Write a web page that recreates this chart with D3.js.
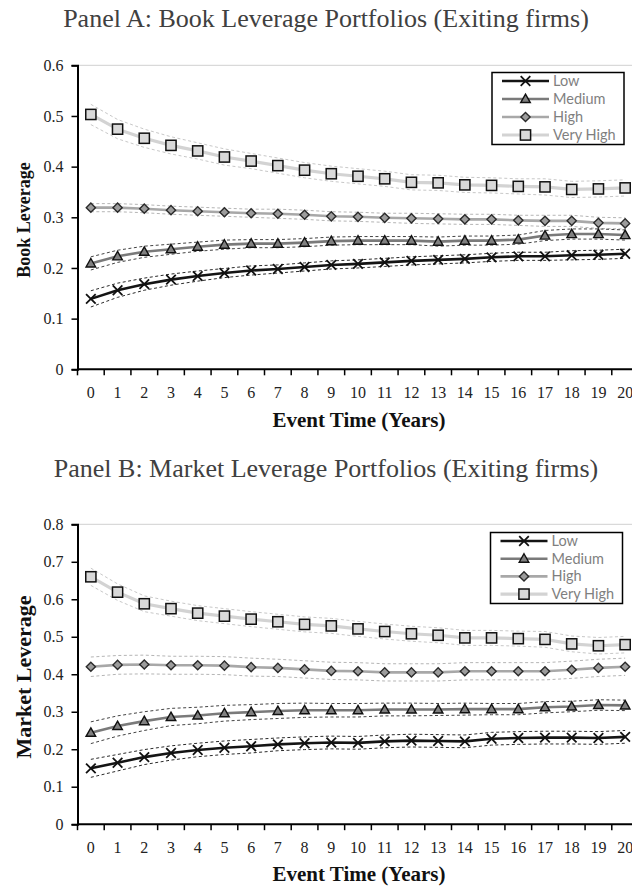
<!DOCTYPE html>
<html>
<head>
<meta charset="utf-8">
<script src="https://cdn.jsdelivr.net/npm/d3@7"></script>
<style>
  html, body { margin: 0; padding: 0; background: #fff; overflow: hidden; }
  svg { display: block; }
</style>
</head>
<body>
<svg id="chart" width="632" height="889"></svg>
<script>
// ---------------- DATA ----------------
const eventYears = d3.range(0, 21).map(String); // tick labels 0..20
const seriesNames = ["Low", "Medium", "High", "Very High"];

// Panel A: Book leverage
const bookLow      = [0.139,0.156,0.168,0.177,0.184,0.190,0.195,0.198,0.202,0.206,0.208,0.211,0.214,0.216,0.218,0.221,0.223,0.223,0.225,0.226,0.228];
const bookMedium   = [0.209,0.223,0.232,0.237,0.242,0.246,0.248,0.248,0.250,0.253,0.254,0.254,0.254,0.252,0.254,0.254,0.256,0.264,0.267,0.267,0.265];
const bookHigh     = [0.319,0.319,0.317,0.314,0.312,0.310,0.308,0.307,0.305,0.302,0.301,0.299,0.298,0.297,0.296,0.296,0.294,0.293,0.293,0.289,0.288];
const bookVeryHigh = [0.503,0.474,0.456,0.442,0.431,0.419,0.411,0.402,0.393,0.386,0.381,0.376,0.369,0.368,0.364,0.363,0.361,0.360,0.355,0.356,0.358];
// Panel A: confidence half-widths
const bookLowCI      = [0.016,0.014,0.012,0.011,0.010,0.009,0.009,0.008,0.008,0.008,0.008,0.008,0.008,0.008,0.008,0.008,0.008,0.008,0.009,0.009,0.009];
const bookMediumCI   = [0.013,0.012,0.011,0.010,0.009,0.009,0.008,0.008,0.008,0.008,0.008,0.008,0.008,0.009,0.009,0.009,0.009,0.010,0.010,0.010,0.010];
const bookHighCI     = [0.008,0.008,0.008,0.008,0.008,0.008,0.008,0.009,0.009,0.009,0.009,0.009,0.010,0.010,0.010,0.010,0.010,0.011,0.011,0.011,0.011];
const bookVeryHighCI = [0.020,0.019,0.018,0.017,0.016,0.016,0.015,0.015,0.015,0.015,0.015,0.015,0.015,0.015,0.015,0.015,0.015,0.016,0.016,0.016,0.016];

// Panel B: Market leverage
const mktLow      = [0.149,0.164,0.179,0.190,0.198,0.204,0.208,0.213,0.216,0.218,0.217,0.221,0.223,0.222,0.221,0.228,0.230,0.231,0.231,0.230,0.233];
const mktMedium   = [0.244,0.262,0.275,0.286,0.290,0.296,0.299,0.302,0.304,0.304,0.304,0.306,0.306,0.306,0.307,0.307,0.307,0.312,0.314,0.318,0.317];
const mktHigh     = [0.420,0.425,0.426,0.424,0.424,0.423,0.419,0.417,0.413,0.409,0.408,0.405,0.405,0.405,0.408,0.408,0.408,0.408,0.412,0.417,0.420];
const mktVeryHigh = [0.660,0.619,0.588,0.575,0.563,0.555,0.547,0.540,0.533,0.529,0.521,0.514,0.508,0.504,0.497,0.497,0.495,0.493,0.481,0.476,0.479];
// Panel B: confidence half-widths
const mktLowCI      = [0.024,0.022,0.020,0.019,0.018,0.018,0.018,0.017,0.017,0.017,0.017,0.017,0.017,0.017,0.017,0.017,0.017,0.017,0.017,0.017,0.017];
const mktMediumCI   = [0.029,0.027,0.025,0.023,0.022,0.021,0.020,0.020,0.019,0.018,0.018,0.017,0.017,0.016,0.016,0.015,0.015,0.015,0.014,0.014,0.014];
const mktHighCI     = [0.026,0.025,0.025,0.024,0.024,0.024,0.024,0.023,0.023,0.023,0.023,0.023,0.023,0.023,0.023,0.023,0.023,0.023,0.023,0.023,0.023];
const mktVeryHighCI = [0.023,0.022,0.021,0.020,0.020,0.020,0.020,0.020,0.020,0.020,0.020,0.020,0.020,0.020,0.020,0.020,0.020,0.021,0.021,0.022,0.022];

const bookTicks = [0, 0.1, 0.2, 0.3, 0.4, 0.5, 0.6];
const mktTicks  = [0, 0.1, 0.2, 0.3, 0.4, 0.5, 0.6, 0.7, 0.8];

// ---------------- STYLES ----------------
const styles = {
  "Low":       { line: "#141414", width: 2.6, ci: "#2a2a2a", marker: "x" },
  "Medium":    { line: "#7a7a7a", width: 2.6, ci: "#444444", marker: "triangle" },
  "High":      { line: "#a8a8a8", width: 2.6, ci: "#b5b5b5", marker: "diamond" },
  "Very High": { line: "#d3d3d3", width: 3.2, ci: "#c8c8c8", marker: "square" }
};

const svg = d3.select("#chart");
const serif = "'Liberation Serif', 'Times New Roman', serif";

function drawMarker(g, type, cx, cy) {
  if (type === "x") {
    const s = 4.8;
    g.append("path")
      .attr("d", `M${cx - s},${cy - s}L${cx + s},${cy + s}M${cx - s},${cy + s}L${cx + s},${cy - s}`)
      .attr("stroke", "#111").attr("stroke-width", 1.8).attr("fill", "none");
  } else if (type === "triangle") {
    const w = 4.8, h = 8.5;
    g.append("path")
      .attr("d", `M${cx},${cy - h * 0.58}L${cx + w},${cy + h * 0.42}L${cx - w},${cy + h * 0.42}Z`)
      .attr("fill", "#808080").attr("stroke", "#111").attr("stroke-width", 1.4);
  } else if (type === "diamond") {
    const s = 4.6;
    g.append("path")
      .attr("d", `M${cx},${cy - s}L${cx + s},${cy}L${cx},${cy + s}L${cx - s},${cy}Z`)
      .attr("fill", "#9c9c9c").attr("stroke", "#2a2a2a").attr("stroke-width", 1.4);
  } else {
    const s = 5.1;
    g.append("rect")
      .attr("x", cx - s).attr("y", cy - s).attr("width", 2 * s).attr("height", 2 * s)
      .attr("fill", "#d9d9d9").attr("stroke", "#111").attr("stroke-width", 1.5);
  }
}

function drawPanel(cfg) {
  const g = svg.append("g");
  const x = d3.scaleBand().domain(eventYears).range([cfg.left, cfg.right]).padding(0);
  const y = d3.scaleLinear().domain([0, cfg.max]).range([cfg.bottom, cfg.top]);
  const cx = i => x(eventYears[i]) + x.bandwidth() / 2;

  // title
  g.append("text")
    .attr("x", cfg.titleX).attr("y", cfg.titleY)
    .attr("text-anchor", "middle")
    .attr("font-family", serif).attr("font-size", 26).attr("fill", "#404040")
    .text(cfg.title);

  // top gridline
  g.append("line")
    .attr("x1", cfg.left).attr("x2", 632)
    .attr("y1", y(cfg.max)).attr("y2", y(cfg.max))
    .attr("stroke", "#d9d9d9").attr("stroke-width", 1.2);

  // y axis
  const yAxis = g.append("g")
    .attr("transform", `translate(${cfg.left},0)`)
    .call(d3.axisLeft(y).tickValues(cfg.ticks).tickSize(6).tickPadding(8)
      .tickFormat(d => d === 0 ? "0" : d3.format(".1f")(d)));
  yAxis.select(".domain").attr("stroke", "#000").attr("stroke-width", 2);
  yAxis.selectAll(".tick line").attr("stroke", "#000").attr("stroke-width", 1.5);
  yAxis.selectAll("text").attr("font-family", serif).attr("font-size", 16).attr("fill", "#222");

  // x axis (ticks on band boundaries)
  const xAxisG = g.append("g").attr("transform", `translate(0,${cfg.bottom})`);
  xAxisG.append("line")
    .attr("x1", cfg.left).attr("x2", cfg.right)
    .attr("stroke", "#000").attr("stroke-width", 2);
  const bounds = eventYears.map(d => x(d)).concat([cfg.right]);
  xAxisG.selectAll("line.tk").data(bounds).join("line").attr("class", "tk")
    .attr("x1", d => d).attr("x2", d => d).attr("y1", 0).attr("y2", 6)
    .attr("stroke", "#000").attr("stroke-width", 1.5);
  xAxisG.selectAll("text").data(eventYears).join("text")
    .attr("x", d => x(d) + x.bandwidth() / 2).attr("y", 29)
    .attr("text-anchor", "middle")
    .attr("font-family", serif).attr("font-size", 16).attr("fill", "#222")
    .text(d => d);

  // axis titles
  g.append("text")
    .attr("x", 359).attr("y", cfg.bottom + cfg.xTitleDy)
    .attr("text-anchor", "middle")
    .attr("font-family", serif).attr("font-weight", "bold").attr("font-size", 21).attr("fill", "#111")
    .text("Event Time (Years)");
  g.append("text")
    .attr("transform", `translate(${cfg.yTitleX},${cfg.yTitleY}) rotate(-90)`)
    .attr("text-anchor", "middle")
    .attr("font-family", serif).attr("font-weight", "bold").attr("font-size", cfg.yTitleSize).attr("fill", "#111")
    .text(cfg.yTitle);

  // series
  const line = d3.line().x((d, i) => cx(i)).y(d => y(d));
  const order = ["Very High", "High", "Medium", "Low"];
  order.forEach(name => {
    const st = styles[name];
    const vals = cfg.values[name];
    const ci = cfg.ci[name];
    const up = vals.map((v, i) => v + ci[i]);
    const lo = vals.map((v, i) => v - ci[i]);
    [up, lo].forEach(b => g.append("path").attr("d", line(b))
      .attr("fill", "none").attr("stroke", st.ci).attr("stroke-width", 1)
      .attr("stroke-dasharray", "3,2.5"));
    g.append("path").attr("d", line(vals))
      .attr("fill", "none").attr("stroke", st.line).attr("stroke-width", st.width)
      .attr("stroke-linejoin", "round");
  });
  order.forEach(name => {
    const st = styles[name];
    cfg.values[name].forEach((v, i) => drawMarker(g, st.marker, cx(i), y(v)));
  });

  // legend
  const lg = g.append("g");
  lg.append("rect")
    .attr("x", cfg.legX).attr("y", cfg.legY).attr("width", 132).attr("height", cfg.legH)
    .attr("fill", "#fff").attr("stroke", "#000").attr("stroke-width", 1.5);
  seriesNames.forEach((name, k) => {
    const st = styles[name];
    const ry = cfg.legY + cfg.legRow0 + k * cfg.legStep;
    lg.append("line")
      .attr("x1", cfg.legX + 10).attr("x2", cfg.legX + 57)
      .attr("y1", ry).attr("y2", ry)
      .attr("stroke", st.line).attr("stroke-width", st.width);
    drawMarker(lg, st.marker, cfg.legX + 33.5, ry);
    lg.append("text")
      .attr("x", cfg.legX + 61).attr("y", ry + 5)
      .attr("font-family", "Lato, 'Open Sans', sans-serif").attr("font-size", 14.5).attr("fill", "#7f7f7f")
      .text(name);
  });
}

drawPanel({
  title: "Panel A: Book Leverage Portfolios (Exiting firms)",
  titleX: 326, titleY: 27,
  left: 77.5, right: 638.5, top: 65.3, bottom: 369.3, max: 0.6,
  ticks: bookTicks, yTitle: "Book Leverage", yTitleSize: 18, yTitleX: 30, yTitleY: 220,
  xTitleDy: 58,
  values: { "Low": bookLow, "Medium": bookMedium, "High": bookHigh, "Very High": bookVeryHigh },
  ci: { "Low": bookLowCI, "Medium": bookMediumCI, "High": bookHighCI, "Very High": bookVeryHighCI },
  legX: 492, legY: 72.5, legH: 72, legRow0: 8.5, legStep: 18
});

drawPanel({
  title: "Panel B: Market Leverage Portfolios (Exiting firms)",
  titleX: 326, titleY: 477,
  left: 77.5, right: 638.5, top: 524.3, bottom: 824.2, max: 0.8,
  ticks: mktTicks, yTitle: "Market Leverage", yTitleSize: 22, yTitleX: 31, yTitleY: 677,
  xTitleDy: 57,
  values: { "Low": mktLow, "Medium": mktMedium, "High": mktHigh, "Very High": mktVeryHigh },
  ci: { "Low": mktLowCI, "Medium": mktMediumCI, "High": mktHighCI, "Very High": mktVeryHighCI },
  legX: 490.5, legY: 532.5, legH: 71, legRow0: 8.5, legStep: 17.7
});
</script>
</body>
</html>
